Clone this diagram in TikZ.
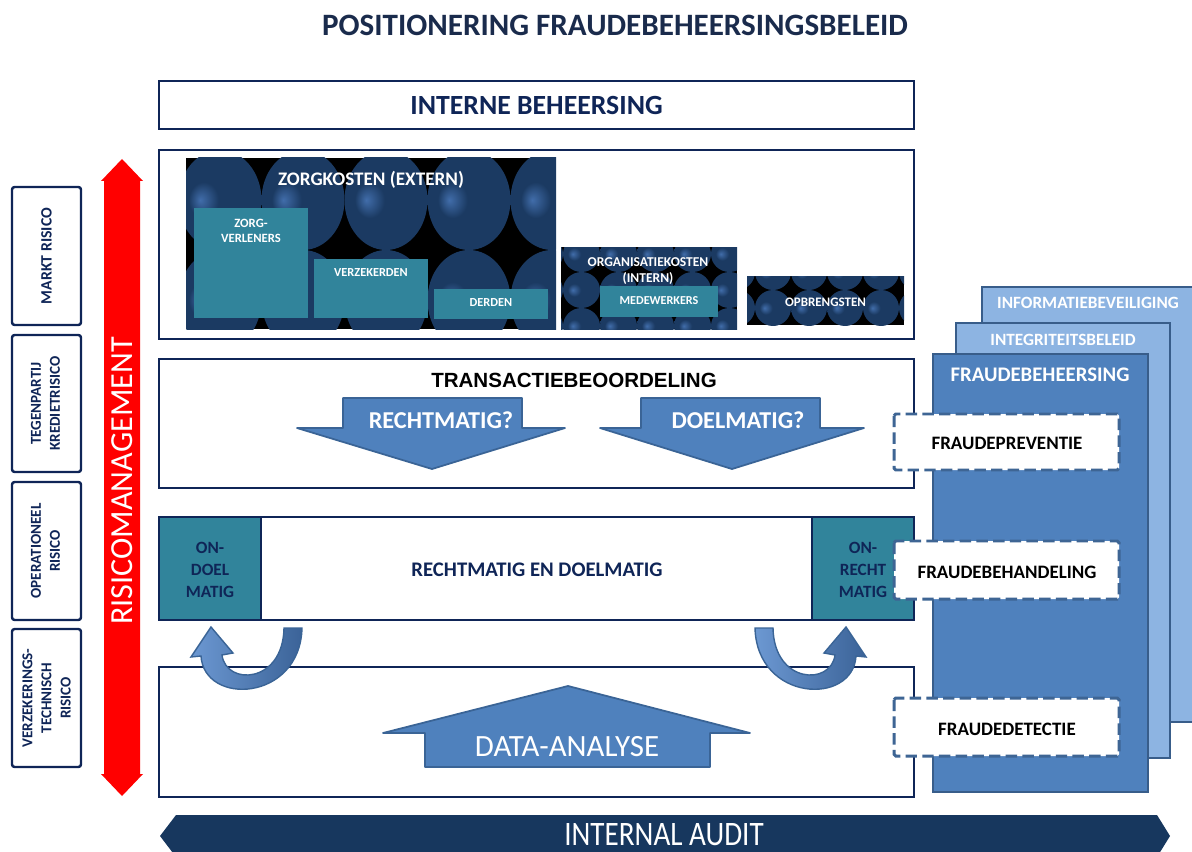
\documentclass[tikz,border=0pt]{standalone}
\usepackage{fontspec}
\setmainfont{Carlito}
\newfontfamily\arialfont{Liberation Sans}
\newfontfamily\condfont[FakeStretch=0.85]{Carlito}
\usetikzlibrary{calc}

\definecolor{navy}{HTML}{0F2557}
\definecolor{ttlnavy}{HTML}{1A2B4C}
\definecolor{tealfill}{HTML}{31849B}
\definecolor{patdark}{HTML}{1B3A62}
\definecolor{patlight}{HTML}{416DAA}
\definecolor{fraudblue}{HTML}{4F81BD}
\definecolor{fraudedge}{HTML}{385D8A}
\definecolor{lightblue}{HTML}{8DB4E2}
\definecolor{dashedge}{HTML}{3E6594}
\definecolor{arrowedge}{HTML}{3A6496}
\definecolor{bendlight}{HTML}{6C98D2}
\definecolor{benddark}{HTML}{3B6398}
\definecolor{auditblue}{HTML}{17375E}

\pgfdeclareradialshading{glow}{\pgfpoint{-12bp}{0bp}}{%
  color(0bp)=(patlight); color(9bp)=(patdark); color(50bp)=(patdark)}

\newcommand\fsz[2]{\fontsize{#1}{#2}\selectfont}

% tiled ellipses on black: x1,y1,x2,y2,rx,ry,x0,y0
\newcommand\circfield[8]{%
  \begin{scope}
    \clip (#1,#2) rectangle (#3,#4);
    \fill[black] (#1,#2) rectangle (#3,#4);
    \pgfmathtruncatemacro\ncol{(#3-#7)/(2*#5)+1}
    \pgfmathtruncatemacro\nrow{(#4-#8)/(2*#6)+1}
    \foreach \i in {0,...,\ncol}
      \foreach \j in {0,...,\nrow}
        \shade[shading=glow]
          ({#7+2*#5*\i},{#8+2*#6*\j}) ellipse ({#5} and {#6});
  \end{scope}}

\newcommand\bendarrow{%
  \shade[left color=bendlight,right color=benddark,draw=arrowedge,line width=0.8pt]
    (302,628) .. controls (300,702) and (204,706) .. (201,656)
    -- (191,657) -- (211,627) -- (233,653) -- (222,655)
    .. controls (226,686) and (283,684) .. (284,628) -- cycle;}

\begin{document}
\begin{tikzpicture}[x=0.02cm,y=-0.02cm,
  mainbox/.style={draw=navy,line width=1.6pt,fill=white},
  riskbox/.style={draw=navy,line width=1.4pt,rounded corners=1.5pt,fill=white},
  costbox/.style={fill=tealfill},
  blockarrow/.style={fill=fraudblue,draw=arrowedge,line width=1pt,line join=round},
  layer/.style={draw=fraudedge,line width=1.2pt},
  dashbox/.style={draw=dashedge,line width=1.7pt,dash pattern=on 6.5pt off 3pt,
                  fill=white,rounded corners=1pt},
  navytxt/.style={text=navy,font=\bfseries\fsz{9.8}{12.5},align=center},
  whitetxt/.style={text=white,font=\bfseries\fsz{7}{9.5},align=center},
  risktxt/.style={text=navy,font=\bfseries\fsz{8.6}{10.9},align=center,rotate=90},
  fraudtxt/.style={text=black,font=\bfseries\fsz{10.8}{12}}]

  \useasboundingbox (0,0) rectangle (1192,851);
  \clip (0,0) rectangle (1192,851);

  \node[text=ttlnavy,font=\bfseries\fsz{17.7}{20}] (title) at (615,25)
    {POSITIONERING FRAUDEBEHEERSINGSBELEID};

  % risk columns
  \draw[riskbox] (12,187) rectangle (81,325);
  \node[risktxt,font=\bfseries\fsz{9}{11}] (markt) at (46.5,256) {MARKT RISICO};
  \draw[riskbox] (12,335) rectangle (81,472);
  \node[risktxt] (tegenpartij) at (45.5,403.5) {TEGENPARTIJ\\KREDIETRISICO};
  \draw[riskbox] (12,482) rectangle (81,620);
  \node[risktxt] (operationeel) at (45.5,551) {OPERATIONEEL\\RISICO};
  \draw[riskbox] (12,629) rectangle (81,767);
  \node[risktxt] (verzekering) at (46.5,698) {VERZEKERINGS-\\TECHNISCH\\RISICO};

  \fill[red] (122,159) -- (143,181) -- (140,181) -- (140,774) -- (143,774)
    -- (122,796) -- (101,774) -- (104,774) -- (104,181) -- (101,181) -- cycle;
  \node[text=white,font=\fsz{18.3}{20},rotate=90] (risman) at (122,481) {RISICOMANAGEMENT};

  % interne beheersing
  \draw[mainbox] (159,81) rectangle (914,129);
  \node[text=navy,font=\bfseries\fsz{15.8}{18}] (intern) at (536.5,105) {INTERNE BEHEERSING};

  % kosten en opbrengsten
  \draw[mainbox] (159,150) rectangle (914,339);
  \circfield{186}{158}{556}{329}{41.5}{50}{137}{100}
  \node[whitetxt,font=\bfseries\fsz{10.9}{12}] (zorg) at (371,180) {ZORGKOSTEN (EXTERN)};
  \fill[costbox] (194,208) rectangle (308,318);
  \node[whitetxt,font=\bfseries\fsz{7.2}{8.8}] (verleners) at (251,231) {ZORG-\\VERLENERS};
  \fill[costbox] (314,259) rectangle (428,318);
  \node[whitetxt,font=\bfseries\fsz{7}{8.5}] (verzekerden) at (371,273) {VERZEKERDEN};
  \fill[costbox] (434,289) rectangle (548,319);
  \node[whitetxt,font=\bfseries\fsz{7}{8.5}] (derden) at (491,303) {DERDEN};

  \circfield{561}{247}{737}{329}{18.5}{18}{544.5}{218}
  \node[whitetxt,font=\bfseries\fsz{7.7}{9.5}] (orgkosten) at (648,271) {ORGANISATIEKOSTEN\\(INTERN)};
  \fill[costbox] (600,286) rectangle (718,317);
  \node[whitetxt,font=\bfseries\fsz{6.9}{8.5}] (medewerkers) at (659,301) {MEDEWERKERS};

  \circfield{747}{276}{904}{325}{18}{18}{737}{272}
  \node[whitetxt,font=\bfseries\fsz{7.4}{9}] (opbrengsten) at (825.5,302) {OPBRENGSTEN};

  % transactiebeoordeling
  \draw[mainbox] (159,359) rectangle (914,488);
  \node[text=black,font=\arialfont\bfseries\fsz{11.7}{13}] (transactie) at (574,380)
    {TRANSACTIEBEOORDELING};
  \draw[blockarrow] (343,398) -- (522,398) -- (522,428) -- (565,428) -- (432,469)
    -- (297,428) -- (343,428) -- cycle;
  \node[text=white,font=\bfseries\fsz{13.8}{15}] (rechtmatig) at (441,420) {RECHTMATIG?};
  \draw[blockarrow] (641,398) -- (820,398) -- (820,428) -- (864,428) -- (732,469)
    -- (600,428) -- (641,428) -- cycle;
  \node[text=white,font=\bfseries\fsz{13.8}{15}] (doelmatig) at (738,420) {DOELMATIG?};

  % rechtmatig en doelmatig
  \draw[mainbox] (159,517) rectangle (914,620);
  \draw[mainbox,fill=tealfill] (159,517) rectangle (261,620);
  \draw[mainbox,fill=tealfill] (812,517) rectangle (914,620);
  \node[navytxt] (ondoel) at (210,570) {ON-\\DOEL\\MATIG};
  \node[navytxt] (onrecht) at (863,570) {ON-\\RECHT\\MATIG};
  \node[navytxt,font=\bfseries\fsz{11.8}{13}] (rendm) at (537,570) {RECHTMATIG EN DOELMATIG};

  % data-analyse
  \draw[mainbox] (159,667) rectangle (914,797);
  \draw[blockarrow] (425,767) -- (710,767) -- (710,733) -- (750,733) -- (568,686)
    -- (383,733) -- (425,733) -- cycle;
  \node[text=white,font=\fsz{17.6}{20}] (data) at (567,747) {DATA-ANALYSE};

  \bendarrow
  \begin{scope}[shift={(1057,0)},xscale=-1]
    \bendarrow
  \end{scope}

  % fraudebeheersing
  \draw[layer,fill=lightblue] (982,287) rectangle (1200,722);
  \node[text=white,font=\bfseries\fsz{9.8}{11}] (infobev) at (1088,303) {INFORMATIEBEVEILIGING};
  \draw[layer,fill=lightblue] (956,323) rectangle (1170,758);
  \node[text=white,font=\bfseries\fsz{9.8}{11}] (integriteit) at (1063,340) {INTEGRITEITSBELEID};
  \draw[layer,fill=fraudblue] (933,354) rectangle (1148,792);
  \node[text=white,font=\bfseries\fsz{11.8}{13}] (fraudebeh) at (1040,375) {FRAUDEBEHEERSING};

  \draw[dashbox] (894,414) rectangle (1119,470);
  \node[fraudtxt] (preventie) at (1007,443) {FRAUDEPREVENTIE};
  \draw[dashbox] (894,541) rectangle (1119,599);
  \node[fraudtxt] (behandeling) at (1007,572) {FRAUDEBEHANDELING};
  \draw[dashbox] (894,698) rectangle (1119,756);
  \node[fraudtxt] (detectie) at (1007,729) {FRAUDEDETECTIE};

  % internal audit
  \fill[auditblue] (176,815) -- (1157,815) -- (1170,836) -- (1157,857) -- (176,857)
    -- (160,836) -- cycle;
  \node[text=white,font=\condfont\fsz{19.5}{22},anchor=base,inner sep=0pt,text depth=0pt]
    (audit) at (664,845) {INTERNAL AUDIT};
\end{tikzpicture}
\end{document}
